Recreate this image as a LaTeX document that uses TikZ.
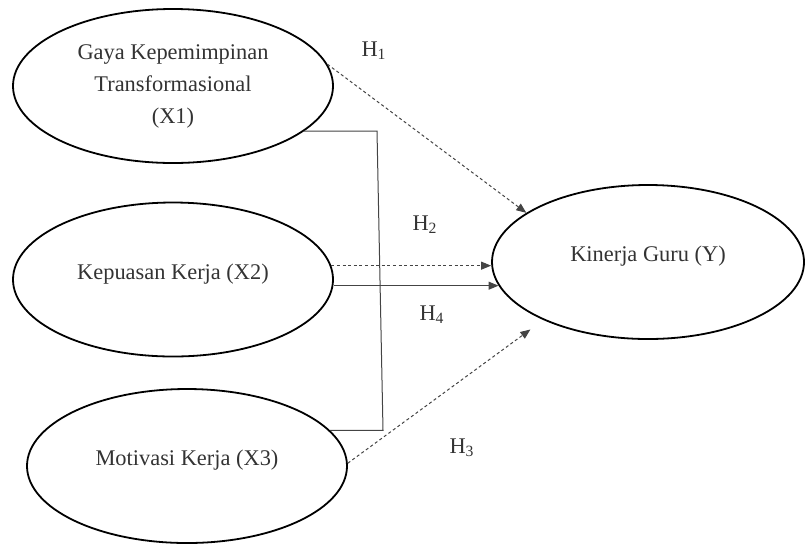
\documentclass[tikz,border=0pt]{standalone}
\usepackage{fontspec}
\setmainfont{Liberation Serif}
\usetikzlibrary{shapes.geometric,arrows.meta}
\definecolor{txt}{HTML}{333333}
\definecolor{lnk}{HTML}{444444}
\begin{document}
\begin{tikzpicture}[x=0.5pt,y=-0.5pt,
  var/.style={ellipse,draw=black,line width=0.9pt,inner sep=0pt,
    minimum width=160pt,minimum height=77pt,align=center,text=txt,
    font=\fontsize{11.2}{16}\selectfont},
  onel/.style={text height=8pt,text depth=8.5pt},
  link/.style={draw=lnk,line width=0.5pt},
  dlink/.style={link,dash pattern=on 1.5pt off 1.3pt},
  tip/.style={-{Triangle[length=5pt,width=4pt]}},
  hyp/.style={text=txt,font=\fontsize{11.2}{13}\selectfont,inner sep=0pt}]
\useasboundingbox (0,0) rectangle (806,547);
\node[var] (X1) at (173,86) {Gaya Kepemimpinan\\Transformasional\\(X1)};
\node[var,onel] (X2) at (173,279.5) {Kepuasan Kerja (X2)};
\node[var,onel] (X3) at (187,466) {Motivasi Kerja (X3)};
\node[var,onel,minimum width=156pt] (Y) at (648,262) {Kinerja Guru (Y)};
\coordinate (jt) at (377,0);
\coordinate (jb) at (383,0);
% bracket joining X1 and X3
\draw[link] (X1.-19) -- (X1.-19 -| jt) -- (X3.14 -| jb) -- (X3.14);
% H1
\draw[dlink,tip] (X1.8) -- (Y.158.3);
% H2
\draw[dlink,tip] (X2.5.6) -- (X2.5.6 -| Y.west);
% H4
\draw[link,tip] (Y.-171.6 -| X2.east) -- (Y.-171.6);
% H3
\draw[dlink,tip,shorten >=8pt] (X3.1.5) -- (Y.-151.2);
\node[hyp] (h1) at (374,51) {H\textsubscript{1}};
\node[hyp] (h2) at (425,225) {H\textsubscript{2}};
\node[hyp] (h4) at (432,315) {H\textsubscript{4}};
\node[hyp] (h3) at (462,448) {H\textsubscript{3}};
\end{tikzpicture}
\end{document}
